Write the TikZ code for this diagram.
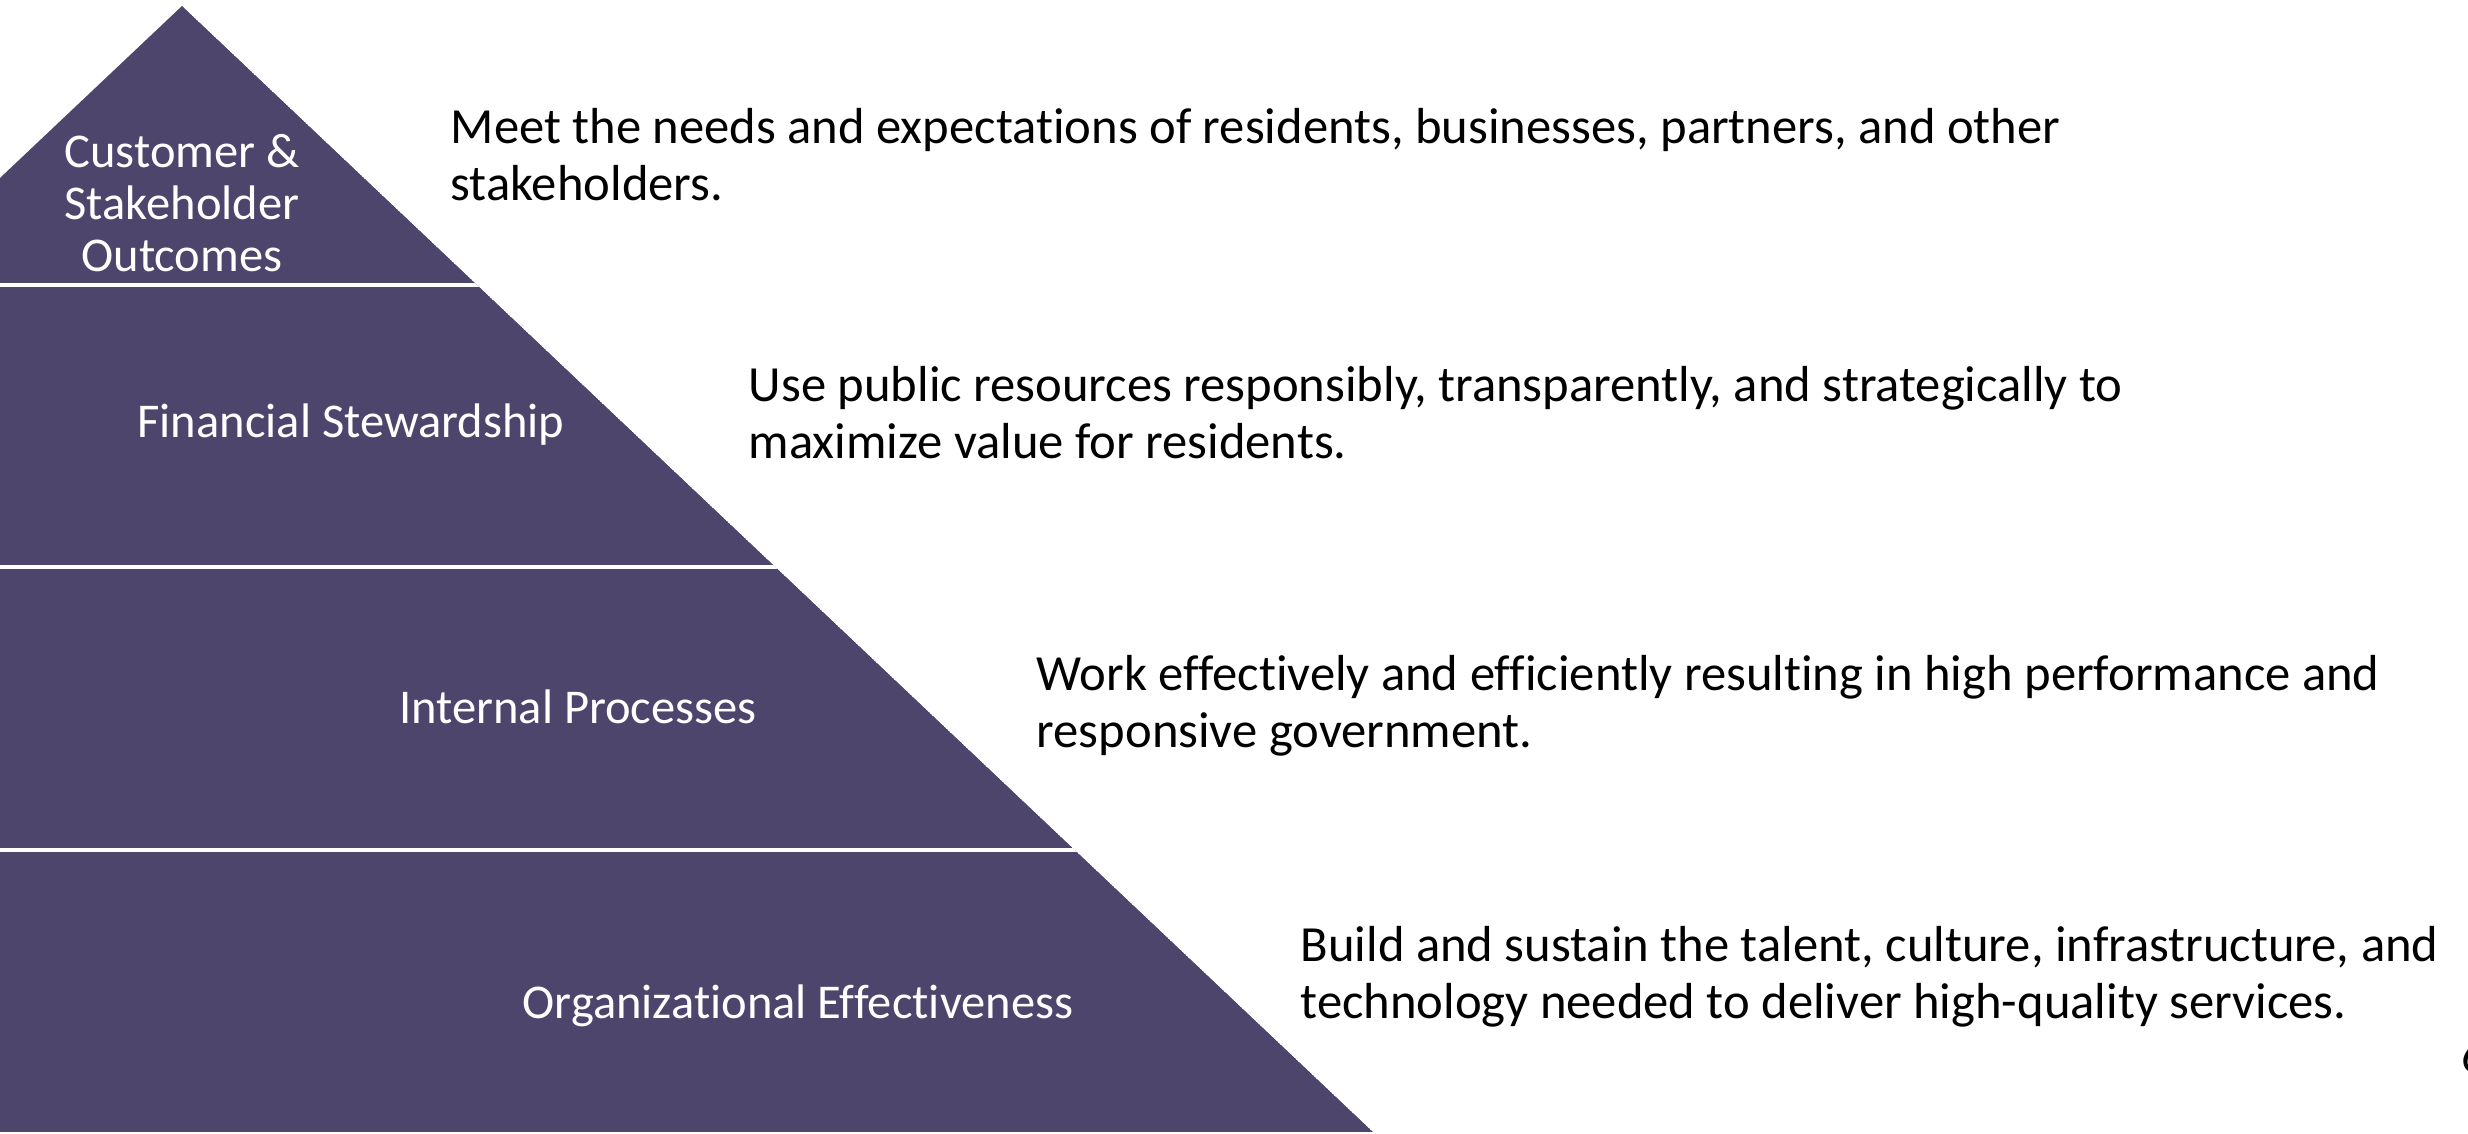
\documentclass[tikz,border=0pt]{standalone}
\usepackage{fontspec}
\setmainfont[Ligatures={NoCommon}]{Carlito}
\usepackage{tikz}
\usetikzlibrary{positioning, calc}

\definecolor{tierpurple}{RGB}{77,69,108}

\tikzset{
    tierlabel/.style={text=white, align=center, inner sep=0pt, font=\fontsize{13.8}{14.8}\selectfont},
    goaltext/.style={anchor=west, align=left, inner sep=0pt, font=\fontsize{14.4}{16.2}\selectfont}
}

\begin{document}
\begin{tikzpicture}[x=0.01cm, y=-0.01cm]
            \useasboundingbox (0,0) rectangle (2468,1134);

            % Pyramid outline, cut off at the left edge
            \coordinate (apex) at (182,6);
            \coordinate (baseR) at (1373,1132);
            \coordinate (baseL) at (0,1132);
            \coordinate (sideL) at (0,178);

            \begin{scope}
                \clip (sideL) -- (apex) -- (baseR) -- (baseL) -- cycle;
                \fill[tierpurple] (sideL) -- (apex) -- (baseR) -- (baseL) -- cycle;
                % White gaps between the tiers
                \foreach \y in {285, 567, 850}
                    \draw[white, line width=0.9pt] (0,\y) -- (2468,\y);
            \end{scope}

            % Tier names
            \node (customer) at (182,203) [tierlabel] {Customer \&\\Stakeholder\\Outcomes};
            \node (financial) at (351,425) [tierlabel] {Financial Stewardship};
            \node (internal) at (578,707) [tierlabel] {Internal Processes};
            \node (organizational) at (798,1006) [tierlabel] {Organizational Effectiveness};

            % Goal statements
            \node (customergoal) at (450,155) [goaltext] {Meet the needs and expectations of residents, businesses, partners, and other\\stakeholders.};
            \node (financialgoal) at (748,413) [goaltext] {Use public resources responsibly, transparently, and strategically to\\maximize value for residents.};
            \node (internalgoal) at (1036,706) [goaltext] {Work effectively and efficiently resulting in high performance and\\responsive government.};
            \node (organizationalgoal) at (1300,977) [goaltext] {Build and sustain the talent, culture, infrastructure, and\\technology needed to deliver high-quality services.};

            \node (pagenum) at (2461,1056) [goaltext] {6};

        \end{tikzpicture}
\end{document}
